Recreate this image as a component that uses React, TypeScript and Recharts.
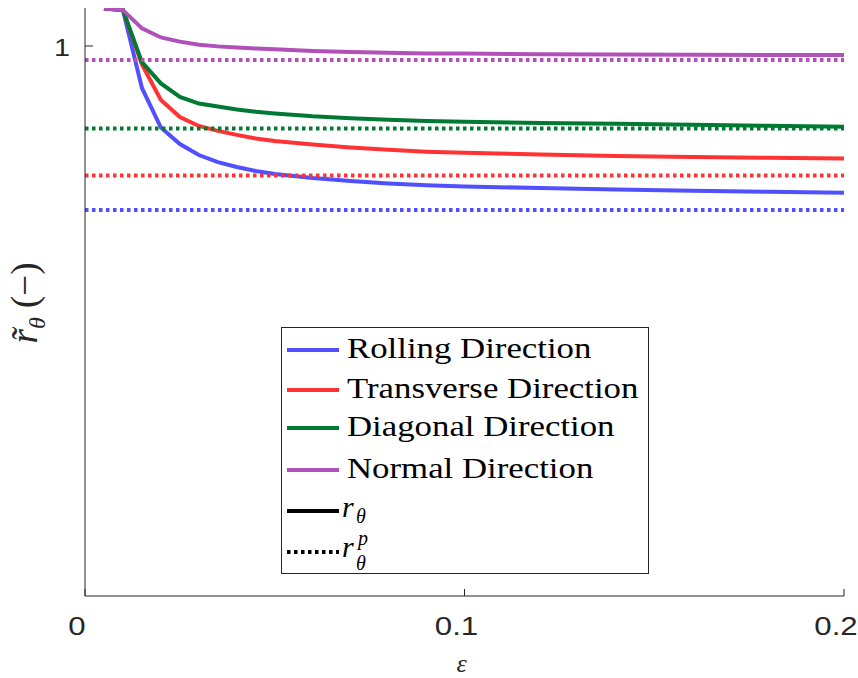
import { LineChart, Line, XAxis, YAxis, ReferenceLine, Legend } from "recharts";

// strain steps
const STRAIN = [0.005, 0.01, 0.015, 0.02, 0.025, 0.03, 0.035, 0.04, 0.045, 0.05, 0.06, 0.07, 0.08, 0.09, 0.1, 0.12, 0.14, 0.16, 0.18, 0.2];

// r-theta (solid curves)
const ROLLING = [1.0197, 1.0189, 0.9779, 0.9571, 0.9484, 0.9426, 0.9389, 0.9363, 0.9342, 0.9326, 0.9305, 0.9289, 0.9276, 0.9267, 0.9261, 0.9252, 0.9245, 0.9238, 0.9233, 0.9228];
const TRANSVERSE = [1.0197, 1.0189, 0.9903, 0.9716, 0.9626, 0.9579, 0.9553, 0.9532, 0.9513, 0.95, 0.9482, 0.9466, 0.9454, 0.9444, 0.9438, 0.9429, 0.9421, 0.9416, 0.9412, 0.9408];
const DIAGONAL = [1.0197, 1.0189, 0.9915, 0.9803, 0.9732, 0.9697, 0.9682, 0.9666, 0.9654, 0.9645, 0.963, 0.962, 0.9612, 0.9605, 0.9601, 0.9595, 0.9591, 0.9585, 0.958, 0.9575];
const NORMAL = [1.0197, 1.0189, 1.0093, 1.0045, 1.0023, 1.0007, 0.9998, 0.9992, 0.9987, 0.9983, 0.9974, 0.9969, 0.9965, 0.9961, 0.996, 0.9957, 0.9955, 0.9954, 0.9953, 0.9952];

// plastic r-theta (dotted, constant)
const PLASTIC = [0.9137, 0.9318, 0.9566, 0.9926];

const X_TICKS = [0, 0.1, 0.2];
const Y_TICKS = [1];
const Y_DOMAIN = [0.7105, 1.02];

const SERIES = [
  { key: "rd", name: "Rolling Direction", color: "#5050ff", values: ROLLING, plastic: PLASTIC[0] },
  { key: "td", name: "Transverse Direction", color: "#ff3333", values: TRANSVERSE, plastic: PLASTIC[1] },
  { key: "dd", name: "Diagonal Direction", color: "#007a33", values: DIAGONAL, plastic: PLASTIC[2] },
  { key: "nd", name: "Normal Direction", color: "#b050b8", values: NORMAL, plastic: PLASTIC[3] },
];

const data = STRAIN.map((eps, i) => {
  const row: Record<string, number> = { eps };
  SERIES.forEach((s) => (row[s.key] = s.values[i]));
  return row;
});

const FRAME = "#262626";
const SANS = "'Liberation Sans', Arial, sans-serif";
const SERIF = "'Liberation Serif', 'Times New Roman', serif";
const DOTS = "3.5 3.5";
const LW = 4;

function BottomTick({ x, y, payload }: any) {
  return (
    <g>
      <line x1={x} x2={x} y1={y} y2={y - 7} stroke={FRAME} />
      <text
        transform={`translate(${x - 8},${y + 39}) scale(1.2,1)`}
        textAnchor="middle"
        fontFamily={SANS}
        fontSize={26}
        fill={FRAME}
      >
        {String(payload.value)}
      </text>
    </g>
  );
}

function TopTick({ x, y }: any) {
  return <line x1={x} x2={x} y1={y} y2={y + 7} stroke={FRAME} />;
}

function LeftTick({ x, y, payload }: any) {
  return (
    <g>
      <line x1={x} x2={x + 8} y1={y} y2={y} stroke={FRAME} />
      <text
        transform={`translate(${x - 15},${y + 10}) scale(1.2,1)`}
        textAnchor="end"
        fontFamily={SANS}
        fontSize={24}
        fill={FRAME}
      >
        {String(payload.value)}
      </text>
    </g>
  );
}

function RightTick({ x, y }: any) {
  return <line x1={x} x2={x - 8} y1={y} y2={y} stroke={FRAME} />;
}

const xLabel = (props: any) => {
  const { x, y, width } = props.viewBox;
  return (
    <text x={x + width / 2 - 3} y={y + 76} textAnchor="middle" fontFamily={SERIF} fontStyle="italic" fontSize={26} fill={FRAME}>
      ε
    </text>
  );
};

const yLabel = (props: any) => {
  const { y, height } = props.viewBox;
  const cy = y + height / 2 + 1;
  return (
    <text
      transform={`translate(37,${cy}) rotate(-90)`}
      textAnchor="middle"
      fontFamily={SERIF}
      fontSize={37}
      fill={FRAME}
    >
      <tspan fontStyle="italic">{"r\u0303"}</tspan>
      <tspan fontStyle="italic" fontSize={24} dy={8}>θ</tspan>
      <tspan dy={-8}>{" (\u2212)"}</tspan>
    </text>
  );
};

// legend row centres inside the box
const ROW_Y = [23, 63, 101, 143, 184, 225];

function LegendBox() {
  return (
    <svg width={368} height={247} style={{ display: "block" }}>
      <rect x={0.5} y={0.5} width={367} height={246} fill="#fff" stroke={FRAME} />
      {SERIES.map((s, i) => (
        <g key={s.key}>
          <line x1={6} x2={58} y1={ROW_Y[i]} y2={ROW_Y[i]} stroke={s.color} strokeWidth={LW} />
          <text transform={`translate(66,${ROW_Y[i] + 8}) scale(1.16,1)`} fontFamily={SERIF} fontSize={30} fill="#000">
            {s.name}
          </text>
        </g>
      ))}
      <line x1={6} x2={58} y1={ROW_Y[4]} y2={ROW_Y[4]} stroke="#000" strokeWidth={LW} />
      <text fontFamily={SERIF} fill="#000" fontStyle="italic">
        <tspan x={61} y={ROW_Y[4] + 6} fontSize={30}>r</tspan>
        <tspan x={75} y={ROW_Y[4] + 12} fontSize={20}>θ</tspan>
      </text>
      <line x1={6} x2={58} y1={ROW_Y[5]} y2={ROW_Y[5]} stroke="#000" strokeWidth={LW} strokeDasharray={DOTS} />
      <text fontFamily={SERIF} fill="#000" fontStyle="italic">
        <tspan x={61} y={ROW_Y[5] + 5} fontSize={30}>r</tspan>
        <tspan x={77} y={ROW_Y[5] - 7} fontSize={20}>p</tspan>
        <tspan x={75} y={ROW_Y[5] + 18} fontSize={20}>θ</tspan>
      </text>
    </svg>
  );
}

export default function App() {
  return (
    <div style={{ position: "absolute", left: 0, top: 0, width: 858, height: 678, background: "#fff" }}>
      <LineChart width={858} height={678} data={data} margin={{ top: 8, right: 14, left: 0, bottom: 0 }}>
        <XAxis
          dataKey="eps"
          type="number"
          domain={[0, 0.2]}
          ticks={X_TICKS}
          interval={0}
          height={82}
          tickSize={0}
          tickMargin={0}
          tickLine={false}
          axisLine={{ stroke: FRAME }}
          tick={<BottomTick />}
          label={xLabel}
        />
        <XAxis
          xAxisId="top"
          orientation="top"
          dataKey="eps"
          type="number"
          domain={[0, 0.2]}
          ticks={X_TICKS}
          interval={0}
          height={0}
          tickSize={0}
          tickMargin={0}
          tickLine={false}
          axisLine={{ stroke: FRAME }}
          tick={<TopTick />}
        />
        <YAxis
          type="number"
          domain={Y_DOMAIN}
          allowDataOverflow
          ticks={Y_TICKS}
          interval={0}
          width={85}
          tickSize={0}
          tickMargin={0}
          tickLine={false}
          axisLine={{ stroke: FRAME }}
          tick={<LeftTick />}
          label={yLabel}
        />
        <YAxis
          yAxisId="right"
          orientation="right"
          type="number"
          domain={Y_DOMAIN}
          allowDataOverflow
          ticks={Y_TICKS}
          interval={0}
          width={0}
          tickSize={0}
          tickMargin={0}
          tickLine={false}
          axisLine={{ stroke: FRAME }}
          tick={<RightTick />}
        />
        {SERIES.map((s) => (
          <Line
            key={s.key}
            dataKey={s.key}
            name={s.name}
            type="linear"
            stroke={s.color}
            strokeWidth={LW}
            dot={false}
            activeDot={false}
            isAnimationActive={false}
          />
        ))}
        {SERIES.map((s) => (
          <ReferenceLine
            key={`p-${s.key}`}
            y={s.plastic}
            stroke={s.color}
            strokeWidth={LW}
            strokeDasharray={DOTS}
          />
        ))}
        <Legend
          layout="vertical"
          align="center"
          verticalAlign="middle"
          content={<LegendBox />}
          wrapperStyle={{ left: 281, top: 327, width: 368, height: 247 }}
        />
      </LineChart>
    </div>
  );
}
